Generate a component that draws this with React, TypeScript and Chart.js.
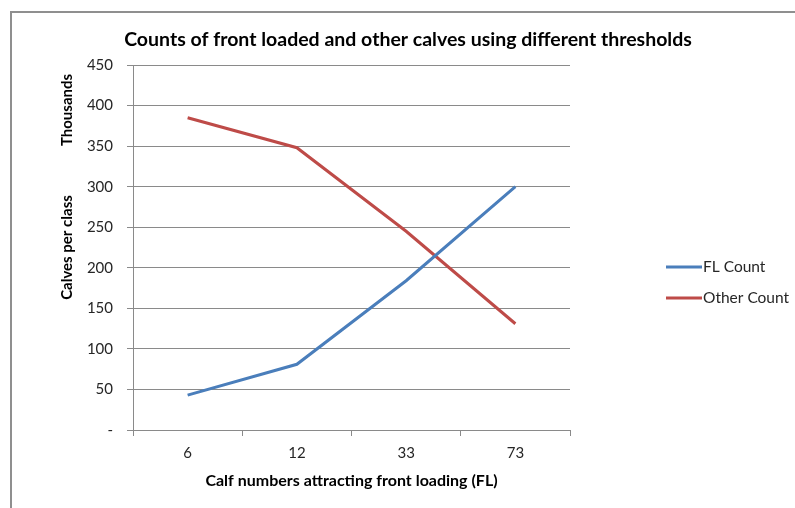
import React, { useEffect, useRef } from "react";
import { Chart, registerables } from "chart.js";

Chart.register(...registerables);

const categories = ["6", "12", "33", "73"];
const flCount = [43, 81, 184, 300];
const otherCount = [385, 348, 245, 131];
const yTicksMax = 450;
const yStep = 50;

const FONT = "Lato, 'Open Sans', sans-serif";
const TEXT = "#262626";
const GRID = "#8a8a8a";

const decorPlugin = {
  id: "decor",
  beforeDraw(chart: any) {
    const ctx = chart.ctx;
    ctx.save();
    ctx.fillStyle = "#ffffff";
    ctx.fillRect(0, 0, chart.width, chart.height);
    ctx.strokeStyle = "#8f8f8f";
    ctx.lineWidth = 2;
    ctx.beginPath();
    ctx.moveTo(11, chart.height);
    ctx.lineTo(11, 12);
    ctx.lineTo(chart.width, 12);
    ctx.stroke();
    ctx.restore();
  },
  afterDraw(chart: any) {
    const ctx = chart.ctx;
    ctx.save();
    // title
    ctx.fillStyle = "#000";
    ctx.font = `bold 19.5px ${FONT}`;
    ctx.textAlign = "center";
    ctx.textBaseline = "middle";
    ctx.fillText("Counts of front loaded and other calves using different thresholds", 408, 40);
    // "Thousands" unit label
    ctx.translate(67, 110);
    ctx.rotate(-Math.PI / 2);
    ctx.font = `bold 15px ${FONT}`;
    ctx.fillText("Thousands", 0, 0);
    ctx.restore();

    // legend
    ctx.save();
    const items = chart.data.datasets;
    const ys = [267, 298];
    items.forEach((ds: any, i: number) => {
      ctx.strokeStyle = ds.borderColor;
      ctx.lineWidth = 3;
      ctx.beginPath();
      ctx.moveTo(666, ys[i]);
      ctx.lineTo(702, ys[i]);
      ctx.stroke();
      ctx.fillStyle = TEXT;
      ctx.font = `15.5px ${FONT}`;
      ctx.textAlign = "left";
      ctx.textBaseline = "middle";
      ctx.fillText(ds.label, 703, ys[i]);
    });
    ctx.restore();
  },
};

export default function App() {
  const ref = useRef<HTMLCanvasElement | null>(null);
  useEffect(() => {
    if (!ref.current) return;
    const chart = new Chart(ref.current, {
      type: "line",
      data: {
        labels: categories,
        datasets: [
          {
            label: "FL Count",
            data: flCount,
            borderColor: "#4A7EBB",
            backgroundColor: "#4A7EBB",
            borderWidth: 3,
            pointRadius: 0,
            tension: 0,
          },
          {
            label: "Other Count",
            data: otherCount,
            borderColor: "#BE4B48",
            backgroundColor: "#BE4B48",
            borderWidth: 3,
            pointRadius: 0,
            tension: 0,
          },
        ],
      },
      options: {
        animation: false,
        responsive: false,
        layout: { padding: { left: 0, right: 225, top: 65, bottom: 0 } },
        plugins: {
          legend: { display: false },
          title: { display: false },
          tooltip: { enabled: false },
        },
        scales: {
          x: {
            offset: true,
            grid: {
              offset: true,
              drawOnChartArea: false,
              drawTicks: true,
              tickLength: 6,
              color: GRID,
            },
            border: { color: GRID, width: 1 },
            ticks: { color: TEXT, font: { family: FONT, size: 15 }, padding: 8 },
            title: {
              display: true,
              text: "Calf numbers attracting front loading (FL)",
              color: "#000",
              font: { family: FONT, size: 16, weight: "bold" },
              padding: { top: 0, bottom: 18 },
            },
            afterFit(scale: any) {
              scale.height = 78;
            },
          },
          y: {
            min: 0,
            max: yTicksMax,
            ticks: {
              stepSize: yStep,
              color: TEXT,
              font: { family: FONT, size: 15 },
              padding: 14,
              callback: (v: any) => (Number(v) === 0 ? "-" : String(v)),
            },
            grid: { color: GRID, tickLength: 6, drawTicks: true },
            border: { color: GRID, width: 1 },
            title: {
              display: true,
              text: "Calves per class",
              color: "#000",
              font: { family: FONT, size: 15, weight: "bold" },
              padding: { top: 58, bottom: 0 },
            },
            afterFit(scale: any) {
              scale.width = 133;
            },
          },
        },
      },
      plugins: [decorPlugin],
    });
    return () => chart.destroy();
  }, []);
  return (
    <div style={{ position: "fixed", left: 0, top: 0, width: 795, height: 508 }}>
      <canvas ref={ref} width={795} height={508} style={{ display: "block" }} />
    </div>
  );
}
